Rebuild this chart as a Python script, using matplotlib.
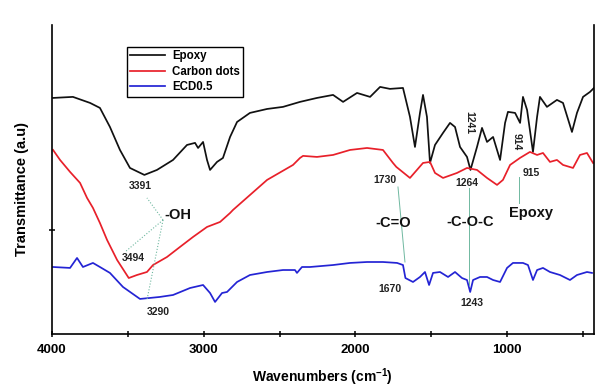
import matplotlib
matplotlib.use('Agg')
import matplotlib.pyplot as plt
import numpy as np

plt.rcParams['font.family'] = ['Liberation Sans', 'DejaVu Sans']
plt.rcParams['mathtext.fontset'] = 'custom'
plt.rcParams['mathtext.rm'] = 'Liberation Sans'
plt.rcParams['mathtext.bf'] = 'Liberation Sans:bold'

# FTIR spectra, wavenumber (cm-1) vs transmittance (a.u., offset per trace)
epoxy_wn = [3993, 3862, 3749, 3684, 3618, 3552, 3486, 3391, 3308, 3202, 3110, 3057,
            3037, 3004, 2978, 2958, 2912, 2873, 2826, 2780, 2695, 2582, 2477, 2365,
            2253, 2147, 2081, 1989, 1903, 1837, 1772, 1686, 1640, 1607, 1574, 1554,
            1528, 1508, 1475, 1422, 1376, 1343, 1310, 1264, 1241, 1198, 1165, 1132,
            1092, 1046, 1013, 994, 947, 914, 895, 868, 829, 802, 783, 737, 671, 631,
            572, 539, 499, 453, 420]
epoxy_t = [22.69, 22.79, 22.21, 21.73, 19.90, 17.69, 15.96, 15.29, 15.77, 16.73, 18.17, 18.37,
           17.88, 18.46, 16.73, 15.77, 16.54, 16.92, 18.94, 20.38, 21.25, 21.63, 21.83, 22.31,
           22.69, 22.98, 22.31, 23.17, 22.79, 23.75, 23.56, 23.65, 20.87, 17.98, 21.25, 22.98,
           20.87, 16.44, 18.17, 19.33, 20.29, 19.90, 17.98, 17.02, 15.77, 17.98, 19.81, 18.46,
           18.94, 16.73, 20.29, 21.35, 21.25, 20.29, 22.79, 21.54, 17.50, 20.87, 22.79, 21.83,
           22.50, 22.21, 19.42, 21.25, 22.79, 23.27, 23.75]

cdots_wn = [3993, 3947, 3881, 3815, 3769, 3730, 3684, 3637, 3571, 3494, 3440, 3374,
            3334, 3242, 3156, 3070, 2978, 2892, 2826, 2807, 2582, 2411, 2365, 2345,
            2253, 2147, 2035, 1923, 1818, 1752, 1730, 1640, 1594, 1554, 1508, 1475,
            1422, 1330, 1264, 1198, 1132, 1066, 1027, 980, 915, 849, 802, 763, 717,
            671, 631, 565, 519, 473, 433]
cdots_t = [17.69, 16.73, 15.58, 14.52, 13.08, 12.12, 10.67, 9.04, 7.12, 5.38, 5.67, 5.96,
           6.63, 7.40, 8.37, 9.33, 10.29, 10.77, 11.63, 11.92, 14.81, 16.25, 16.92, 17.12,
           17.02, 17.21, 17.69, 17.88, 17.69, 16.44, 16.06, 15.00, 15.77, 16.44, 16.54, 15.48,
           15.00, 15.48, 15.96, 15.77, 15.00, 14.33, 14.81, 16.25, 16.92, 17.50, 17.21, 17.40,
           16.54, 16.73, 16.25, 15.96, 17.21, 17.40, 16.44]

ecd_wn = [3993, 3881, 3835, 3796, 3730, 3684, 3618, 3532, 3420, 3290, 3202, 3090,
          3004, 2958, 2925, 2879, 2846, 2780, 2695, 2582, 2477, 2398, 2385, 2352,
          2299, 2147, 2035, 1923, 1818, 1725, 1686, 1670, 1620, 1574, 1541, 1514,
          1488, 1442, 1389, 1343, 1297, 1264, 1243, 1224, 1178, 1132, 1092, 1046,
          1000, 961, 895, 862, 829, 802, 763, 717, 651, 585, 539, 473, 440]
ecd_t = [6.44, 6.35, 7.31, 6.44, 6.83, 6.44, 5.87, 4.52, 3.37, 3.56, 3.75, 4.42,
         4.71, 3.94, 3.08, 3.94, 4.04, 5.00, 5.67, 5.96, 6.15, 6.15, 5.87, 6.44,
         6.44, 6.63, 6.83, 6.92, 6.92, 6.83, 6.63, 5.38, 5.00, 5.48, 5.96, 4.71,
         5.87, 5.96, 5.48, 5.96, 5.38, 5.19, 4.04, 5.19, 5.48, 5.48, 5.19, 5.00,
         6.35, 6.83, 6.83, 6.63, 5.19, 6.15, 6.35, 5.96, 5.67, 5.19, 5.67, 5.96, 5.87]

series_names = ['Epoxy', 'Carbon dots', 'ECD0.5']

fig = plt.figure(figsize=(5.95, 3.89), dpi=100)
ax = fig.add_axes([52 / 595, 55 / 389, 541.5 / 595, 309 / 389])

ax.plot(epoxy_wn, epoxy_t, color='#111111', lw=1.25, label=series_names[0])
ax.plot(cdots_wn, cdots_t, color='#e8202a', lw=1.25, label=series_names[1])
ax.plot(ecd_wn, ecd_t, color='#2424d4', lw=1.25, label=series_names[2])

ax.set_xlim(4000, 430)
ax.set_ylim(0, 29.7)

ax.spines['top'].set_visible(False)
for s in ('left', 'bottom', 'right'):
    ax.spines[s].set_linewidth(1.2)

ax.set_xticks([4000, 3000, 2000, 1000])
ax.set_xticks([3500, 2500, 1500, 500], minor=True)
ax.set_yticks([10])
ax.set_yticklabels([])
ax.tick_params(axis='x', which='both', direction='inout', length=5, width=1.1, pad=5)
ax.tick_params(axis='y', direction='inout', length=5, width=1.1)
ax.tick_params(axis='y', right=False)
for lab in ax.get_xticklabels():
    lab.set_fontweight('bold')
    lab.set_fontsize(9.5)

ax.set_xlabel(r'Wavenumbers (cm$^{\mathbf{-1}}$)', fontsize=10, fontweight='bold', labelpad=7.5)
ax.set_ylabel('Transmittance (a.u)', fontsize=10.5, fontweight='bold')
ax.yaxis.set_label_coords(-0.043, 0.469)

leg = ax.legend(loc='upper left', bbox_to_anchor=(0.1385, 0.929), borderaxespad=0,
                fancybox=False, edgecolor='black', framealpha=1,
                prop={'weight': 'bold', 'size': 8.3}, handlelength=3.0,
                labelspacing=0.3, borderpad=0.3, handletextpad=0.6)
leg.get_frame().set_linewidth(1.0)

# peak labels
lead = '#6fb8a0'
num_fs = 7.5
num_kw = dict(fontsize=num_fs, fontweight='bold', color='#222222', ha='center', va='center')
grp_kw = dict(fontsize=10.5, fontweight='bold', color='#111111', ha='center', va='center')

ax.text(3420, 14.23, '3391', **num_kw)
ax.text(3466, 7.31, '3494', **num_kw)
ax.text(3301, 2.12, '3290', **num_kw)
ax.text(3169, 11.44, '-OH', **grp_kw)
for end_wn, end_t in [(3374, 13.08), (3519, 7.88), (3374, 3.27)]:
    ax.plot([3268, end_wn], [10.96, end_t], color=lead, lw=0.8, ls=':')

ax.text(1805, 14.81, '1730', **num_kw)
ax.text(1772, 4.33, '1670', **num_kw)
ax.plot([1719, 1673], [14.13, 6.92], color=lead, lw=0.7)
ax.text(1752, 10.67, '-C=O', **grp_kw)

ax.text(1264, 14.52, '1264', **num_kw)
ax.text(1231, 2.98, '1243', **num_kw)
ax.plot([1251, 1251], [14.04, 4.71], color=lead, lw=0.7)
ax.text(1244, 10.77, '-C-O-C', **grp_kw)
ax.text(1251, 20.29, '1241', rotation=270, **num_kw)

ax.text(934, 18.46, '914', rotation=270, **num_kw)
ax.text(842, 15.48, '915', **num_kw)
ax.plot([921, 921], [15.10, 12.60], color=lead, lw=0.7)
ax.text(842, 11.63, 'Epoxy', **grp_kw)

fig.savefig('out.png', dpi=100)
